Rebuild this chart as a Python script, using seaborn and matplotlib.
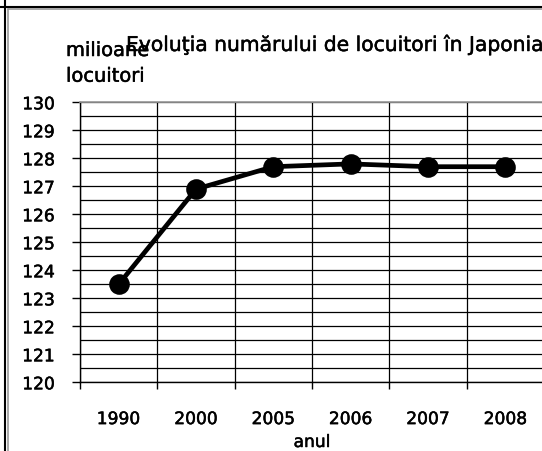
import matplotlib
matplotlib.use("Agg")
import matplotlib.pyplot as plt
from matplotlib.lines import Line2D
import matplotlib.patheffects as pe
import numpy as np
import seaborn as sns

years = ['1990', '2000', '2005', '2006', '2007', '2008']
population = [123.5, 126.9, 127.7, 127.8, 127.7, 127.7]
title = "Evoluţia numărului de locuitori în Japonia"
ylabel_lines = ["milioane", "locuitori"]
xlabel = "anul"

sns.set_theme(style="white")
plt.rcParams['font.family'] = ['DejaVu Sans']

heavy = [pe.withStroke(linewidth=0.35, foreground='black')]

W, H = 542, 452
fig = plt.figure(figsize=(W / 100, H / 100), dpi=100)
ax = fig.add_axes([80 / W, 1 - 383.3 / H, 464 / W, 280 / H])

sns.pointplot(x=years, y=population, color='black', markersize=12.3,
              linewidth=3.4, ax=ax, zorder=5)

ax.set_xlim(-0.5, len(years) - 0.5)
ax.set_ylim(120, 130)

# x: boundaries as major ticks (grid), labels at centers as minor ticks
ax.set_xticks(np.arange(-0.5, len(years), 1))
ax.set_xticklabels([])
ax.set_xticks(np.arange(len(years)), minor=True)
ax.set_xticklabels(years, minor=True, fontsize=12.3, color='black')
ax.tick_params(axis='x', which='major', length=5, width=1, color='black', direction='out', bottom=True)
ax.tick_params(axis='x', which='minor', length=0, pad=20, bottom=True)

ax.set_yticks(np.arange(120, 131, 1))
ax.set_yticks(np.arange(120, 130.01, 0.5), minor=True)
ax.tick_params(axis='y', which='major', length=6, width=1, color='black', direction='out',
               pad=12, labelsize=12.3, labelcolor='black', left=True)
ax.tick_params(axis='y', which='minor', length=0, left=True)

for lbl in ax.get_xticklabels(minor=True) + ax.get_yticklabels():
    lbl.set_path_effects(heavy)

ax.grid(False)
ax.yaxis.grid(True, which='both', color='black', linewidth=0.9)
ax.xaxis.grid(True, which='major', color='black', linewidth=0.9)
ax.set_axisbelow(True)

for s in ['left', 'bottom']:
    ax.spines[s].set_color('black')
    ax.spines[s].set_linewidth(1.0)
ax.spines['top'].set_color('#999999')
ax.spines['right'].set_visible(False)

ax.set_xlabel("")
ax.set_ylabel("")

fig.text(312 / W, 1 - 448 / H, xlabel, ha='center', va='baseline', fontsize=12.3,
         color='black', path_effects=heavy)
fig.text(126 / W, 1 - 52 / H, title, ha='left', va='baseline', fontsize=14.6,
         color='black', path_effects=heavy)
fig.text(66 / W, 1 - 57 / H, ylabel_lines[0], ha='left', va='baseline', fontsize=14,
         color='black', path_effects=heavy)
fig.text(66 / W, 1 - 82.7 / H, ylabel_lines[1], ha='left', va='baseline', fontsize=14,
         color='black', path_effects=heavy)

# outer frame (black border with gray shadow)
fig.add_artist(Line2D([0, 1], [1 - 8 / H] * 2, transform=fig.transFigure, color='black', lw=1.5))
fig.add_artist(Line2D([7.5 / W, 1], [1 - 10 / H] * 2, transform=fig.transFigure, color='#999999', lw=1.2))
fig.add_artist(Line2D([5 / W] * 2, [0, 1], transform=fig.transFigure, color='black', lw=1.5))
fig.add_artist(Line2D([7.5 / W] * 2, [0, 1 - 10 / H], transform=fig.transFigure, color='#999999', lw=1.2))

fig.savefig("out.png", dpi=100)
